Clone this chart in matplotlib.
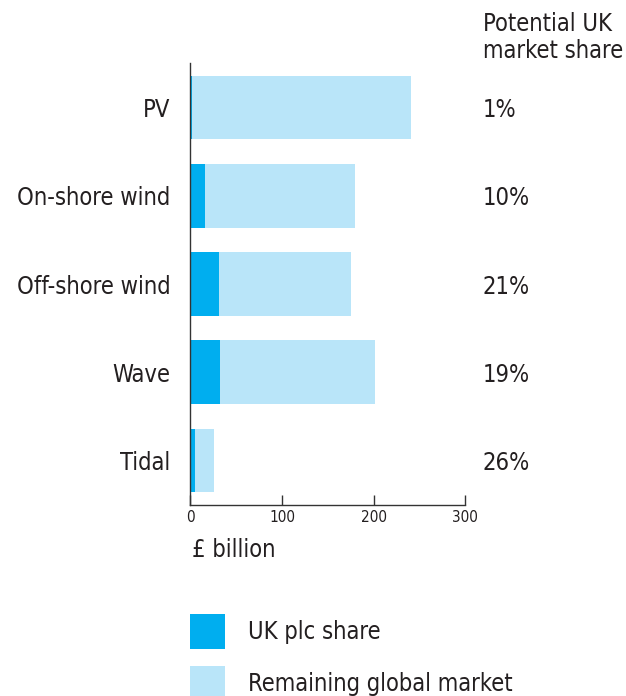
import matplotlib
matplotlib.use("Agg")
import matplotlib.pyplot as plt
from matplotlib.patches import Patch

categories = ["PV", "On-shore wind", "Off-shore wind", "Wave", "Tidal"]
uk_share = [1.8, 16.0, 31.3, 32.4, 5.1]
remaining = [238.9, 163.6, 144.0, 169.1, 20.4]
share_labels = ["1%", "10%", "21%", "19%", "26%"]
xticks = [0, 100, 200, 300]

DARK = "#00AEEF"
LIGHT = "#B9E5F9"
TEXT = "#231F20"
FS = 17

plt.rcParams["font.family"] = ["DejaVu Sans"]
plt.rcParams["font.stretch"] = "condensed"

fig = plt.figure(figsize=(6.26, 6.96), dpi=100)
W, H = 626, 696
ax = fig.add_axes([190.3 / W, 1 - 504.7 / H, 275.0 / W, (504.7 - 63.3) / H])

n = len(categories)
ypos = list(range(n - 1, -1, -1))
ax.barh(ypos, uk_share, height=0.72, color=DARK, label="UK plc share")
ax.barh(ypos, remaining, left=uk_share, height=0.72, color=LIGHT,
        label="Remaining global market")

ax.set_xlim(0, 300)
ax.set_ylim(-0.5, n - 0.5)
ax.set_xticks(xticks)
ax.set_xticklabels([str(t) for t in xticks])
ax.set_yticks(ypos)
ax.set_yticklabels(categories, fontsize=FS, color=TEXT)
ax.tick_params(axis="y", length=0, pad=14.5)
ax.tick_params(axis="x", direction="in", length=7.2, width=1.0,
               color="#333333", labelsize=11, labelcolor=TEXT, pad=3.5)
for s in ["top", "right"]:
    ax.spines[s].set_visible(False)
for s in ["left", "bottom"]:
    ax.spines[s].set_color("#333333")
    ax.spines[s].set_linewidth(1.0)

for y, lab in zip(ypos, share_labels):
    ax.text(319.3, y, lab, fontsize=FS, color=TEXT, ha="left",
            va="center_baseline", clip_on=False)

fig.text(483 / W, 1 - 58.3 / H, "Potential UK\nmarket share", fontsize=FS,
         color=TEXT, ha="left", va="baseline", linespacing=1.2)

fig.text(191.7 / W, 1 - 556.7 / H, "£ billion", fontsize=FS, color=TEXT,
         ha="left", va="baseline")

fs_px = FS * 100 / 72
hl = 35 / fs_px
hh = (35 / fs_px - 0.245) / 0.65
handles = [Patch(facecolor=DARK, edgecolor="none"),
           Patch(facecolor=LIGHT, edgecolor="none")]
fig.legend(handles, ["UK plc share", "Remaining global market"],
           loc="upper left", bbox_to_anchor=(190 / W, 1 - 614 / H),
           bbox_transform=fig.transFigure, frameon=False, fontsize=FS,
           labelcolor=TEXT, borderpad=0, borderaxespad=0,
           handlelength=hl, handleheight=hh, handletextpad=23 / fs_px,
           labelspacing=16.5 / fs_px)

fig.savefig("out.png", dpi=100)
